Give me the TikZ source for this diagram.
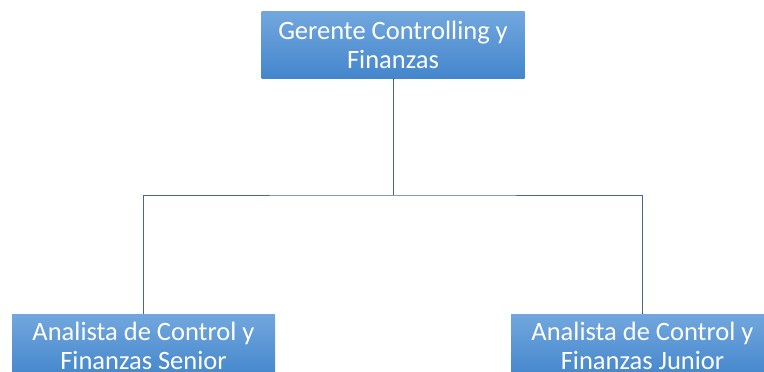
\documentclass[tikz,border=0pt]{standalone}
\usepackage{fontspec}
\setmainfont{Carlito}
\definecolor{boxtop}{RGB}{114,167,222}
\definecolor{boxbot}{RGB}{68,134,204}
\definecolor{linkblue}{RGB}{70,104,140}
\begin{document}
\begin{tikzpicture}[x=1pt,y=1pt,
  orgbox/.style={rectangle, minimum width=263pt, minimum height=67pt,
    top color=boxtop, bottom color=boxbot, draw=none, text=white,
    align=center, inner sep=0pt,
    font=\fontsize{26.5pt}{29pt}\selectfont},
  link/.style={draw=linkblue, line width=0.9pt}]
  \clip (0,0) rectangle (764,-372);
  \fill[white] (0,0) rectangle (764,-372);
  \node[orgbox] (gerente) at (393,-44.5) {Gerente Controlling y\\Finanzas};
  \node[orgbox, minimum height=63pt] (senior) at (143.5,-345.5) {Analista de Control y\\Finanzas Senior};
  \node[orgbox, minimum height=63pt] (junior) at (642.5,-345.5) {Analista de Control y\\Finanzas Junior};
  \coordinate (bus) at (393,-195);
  \draw[link] (gerente.south) -- (bus);
  \draw[link] (senior.north) |- (bus) -| (junior.north);
\end{tikzpicture}
\end{document}
